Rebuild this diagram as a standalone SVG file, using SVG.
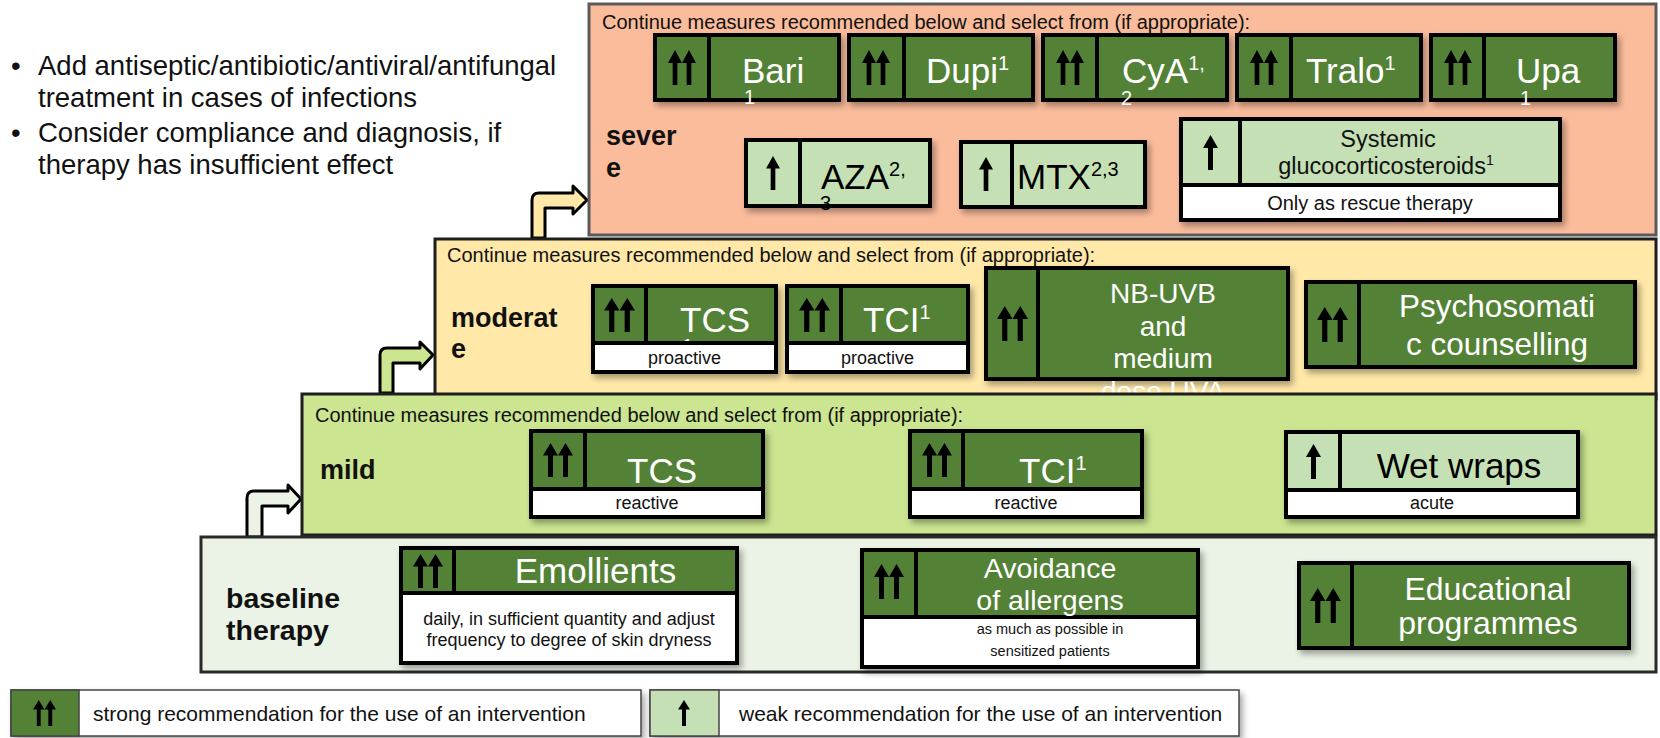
<svg xmlns="http://www.w3.org/2000/svg" width="1660" height="738" viewBox="0 0 1660 738">
<style>
text{font-family:"Liberation Sans",Arial,Helvetica,sans-serif;fill:#111}
.panel{stroke:#1e1e1e;stroke-width:3}
.box{stroke:#000;stroke-width:4}
.dk{fill:#538135}
.lt{fill:#C5E0B4}
.wh{fill:#fff}
.div{stroke:#000;stroke-width:4}
.big{font-size:35px;fill:#fff}
.bigk{font-size:35px;fill:#000}
.sup{font-size:20px;fill:#fff}
.supk{font-size:20px;fill:#000}
.sub{font-size:18px;text-anchor:middle}
.lbl{font-size:27px;font-weight:bold}
.cont{font-size:20px}
.mid{text-anchor:middle}
.wt{fill:#fff}
.conn{stroke:#000;stroke-width:3;stroke-linejoin:round}
</style>
<defs>
<filter id="sh" x="-10%" y="-10%" width="130%" height="140%">
<feDropShadow dx="3" dy="4" stdDeviation="3" flood-color="#000" flood-opacity="0.35"/>
</filter>
<symbol id="dbl" viewBox="0 0 30 38" preserveAspectRatio="none">
<polygon points="0,14 7.5,0 15,14 10,14 10,38 5,38 5,14" fill="#000"/>
<polygon points="15,14 22.5,0 30,14 25,14 25,38 20,38 20,14" fill="#000"/>
</symbol>
<symbol id="sgl" viewBox="0 0 15 38" preserveAspectRatio="none">
<polygon points="0,14 7.5,0 15,14 10,14 10,38 5,38 5,14" fill="#000"/>
</symbol>
</defs>

<rect width="1660" height="738" fill="#fff"/>

<g id="notes">
<text x="11" y="75" font-size="27.5">•</text>
<text x="38" y="75" font-size="27.5">Add antiseptic/antibiotic/antiviral/antifungal</text>
<text x="38" y="107" font-size="27.5">treatment in cases of infections</text>
<text x="11" y="142" font-size="27.5">•</text>
<text x="38" y="142" font-size="27.5">Consider compliance and diagnosis, if</text>
<text x="38" y="174" font-size="27.5">therapy has insufficient effect</text>
</g>

<g id="connectors">
<path class="conn" fill="#FFE8A8" d="M532,238 V200 Q532,193 539,193 H573 V186 L587,200 L573,214 V208 H545 V238 Z"/>
<path class="conn" fill="#CBE590" d="M380,393 V355 Q380,348 387,348 H420 V342 L433,355 L420,369 V363 H393 V393 Z"/>
<path class="conn" fill="#EAF3E5" d="M247,537 V498 Q247,491 254,491 H288 V485 L301,499 L288,513 V506 H262 V537 Z"/>
</g>

<g id="severe">
<rect x="589" y="4" width="1067" height="231" fill="#FBBC9C" stroke="#5a5a5a" stroke-width="3"/>
<text x="602" y="29" class="cont">Continue measures recommended below and select from (if appropriate):</text>
<text x="606" y="145" class="lbl">sever</text>
<text x="606" y="177" class="lbl">e</text>
</g>

<g id="bari">
<rect x="655" y="35" width="184" height="65" class="dk box" filter="url(#sh)"/>
<line x1="709" y1="35" x2="709" y2="100" class="div"/>
<use href="#dbl" x="668" y="50" width="28" height="35"/>
<text x="742" y="83" class="big">Bari</text>
<text x="744" y="104" class="sup">1</text>
</g>
<g id="dupi">
<rect x="849" y="35" width="184" height="65" class="dk box" filter="url(#sh)"/>
<line x1="904" y1="35" x2="904" y2="100" class="div"/>
<use href="#dbl" x="862" y="50" width="28" height="35"/>
<text x="926" y="83" class="big">Dupi<tspan class="sup" dy="-13">1</tspan></text>
</g>
<g id="cya">
<rect x="1043" y="35" width="184" height="65" class="dk box" filter="url(#sh)"/>
<line x1="1097" y1="35" x2="1097" y2="100" class="div"/>
<use href="#dbl" x="1056" y="50" width="28" height="35"/>
<text x="1122" y="83" class="big">CyA<tspan class="sup" dy="-13">1,</tspan></text>
<text x="1121" y="105" class="sup">2</text>
</g>
<g id="tralo">
<rect x="1237" y="35" width="184" height="65" class="dk box" filter="url(#sh)"/>
<line x1="1291" y1="35" x2="1291" y2="100" class="div"/>
<use href="#dbl" x="1250" y="50" width="28" height="35"/>
<text x="1306" y="83" class="big">Tralo<tspan class="sup" dy="-13">1</tspan></text>
</g>
<g id="upa">
<rect x="1431" y="35" width="184" height="65" class="dk box" filter="url(#sh)"/>
<line x1="1484" y1="35" x2="1484" y2="100" class="div"/>
<use href="#dbl" x="1444" y="50" width="28" height="35"/>
<text x="1516" y="83" class="big">Upa</text>
<text x="1520" y="105" class="sup">1</text>
</g>
<g id="aza">
<rect x="746" y="140" width="184" height="66" class="lt box" filter="url(#sh)"/>
<line x1="800" y1="140" x2="800" y2="206" class="div"/>
<use href="#sgl" x="766" y="156" width="14" height="34"/>
<text x="821" y="189" class="bigk">AZA<tspan class="supk" dy="-13">2,</tspan></text>
<text x="820" y="210" class="supk">3</text>
</g>
<g id="mtx">
<rect x="961" y="142" width="184" height="65" class="lt box" filter="url(#sh)"/>
<line x1="1012" y1="142" x2="1012" y2="207" class="div"/>
<use href="#sgl" x="979" y="157" width="14" height="34"/>
<text x="1017" y="189" class="bigk">MTX<tspan class="supk" dy="-13">2,3</tspan></text>
</g>
<g id="systemic">
<rect x="1181" y="119" width="379" height="101" class="wh box" filter="url(#sh)"/>
<rect x="1181" y="119" width="379" height="66" class="lt"/>
<rect x="1181" y="119" width="379" height="101" fill="none" class="box"/>
<line x1="1181" y1="185" x2="1560" y2="185" class="div"/>
<line x1="1240" y1="119" x2="1240" y2="185" class="div"/>
<use href="#sgl" x="1203" y="135" width="15" height="35"/>
<text x="1388" y="147" class="mid" font-size="23.5">Systemic</text>
<text x="1386" y="174" class="mid" font-size="23.5">glucocorticosteroids<tspan font-size="14" dy="-9">1</tspan></text>
<text x="1370" y="210" class="mid" font-size="20">Only as rescue therapy</text>
</g>

<g id="moderate">
<rect x="435" y="239" width="1221" height="160" fill="#FFE8A8" class="panel"/>
<text x="447" y="262" class="cont">Continue measures recommended below and select from (if appropriate):</text>
<text x="451" y="327" class="lbl">moderat</text>
<text x="451" y="358" class="lbl">e</text>
</g>
<g id="tcs-pro">
<rect x="593" y="286" width="183" height="86" class="wh box" filter="url(#sh)"/>
<rect x="593" y="286" width="183" height="57" class="dk"/>
<use href="#dbl" x="604" y="298" width="31" height="34"/>
<text x="680" y="332" class="big">TCS</text>
<text x="682" y="353" class="sup">1</text>
<rect x="593" y="343" width="183" height="29" class="wh"/>
<rect x="593" y="286" width="183" height="86" fill="none" class="box"/>
<line x1="593" y1="343" x2="776" y2="343" class="div"/>
<line x1="646" y1="286" x2="646" y2="343" class="div"/>
<text x="684.5" y="364" class="sub">proactive</text>
</g>
<g id="tci-pro">
<rect x="787" y="286" width="181" height="86" class="wh box" filter="url(#sh)"/>
<rect x="787" y="286" width="181" height="57" class="dk"/>
<rect x="787" y="286" width="181" height="86" fill="none" class="box"/>
<line x1="787" y1="343" x2="968" y2="343" class="div"/>
<line x1="841" y1="286" x2="841" y2="343" class="div"/>
<use href="#dbl" x="799" y="298" width="31" height="34"/>
<text x="863" y="332" class="big">TCI<tspan class="sup" dy="-13">1</tspan></text>
<text x="877.5" y="364" class="sub">proactive</text>
</g>
<g id="nbuvb">
<rect x="986" y="268" width="302" height="111" class="dk box" filter="url(#sh)"/>
<line x1="1038" y1="268" x2="1038" y2="379" class="div"/>
<use href="#dbl" x="997" y="306" width="31" height="35"/>
<text x="1163" y="303" class="mid wt" font-size="28">NB-UVB</text>
<text x="1163" y="336" class="mid wt" font-size="28">and</text>
<text x="1163" y="368" class="mid wt" font-size="28">medium</text>
<text x="1163" y="401" class="mid wt" font-size="28">dose UVA</text>
</g>
<g id="psycho">
<rect x="1306" y="282" width="329" height="85" class="dk box" filter="url(#sh)"/>
<line x1="1359" y1="282" x2="1359" y2="367" class="div"/>
<use href="#dbl" x="1317" y="307" width="31" height="35"/>
<text x="1497" y="317" class="mid wt" font-size="31.5">Psychosomati</text>
<text x="1497" y="355" class="mid wt" font-size="31.5">c counselling</text>
</g>

<g id="mild">
<rect x="302" y="394" width="1354" height="141" fill="#CBE590" class="panel"/>
<text x="315" y="422" class="cont">Continue measures recommended below and select from (if appropriate):</text>
<text x="320" y="479" class="lbl">mild</text>
</g>
<g id="tcs-re">
<rect x="531" y="431" width="232" height="86" class="wh box" filter="url(#sh)"/>
<rect x="531" y="431" width="232" height="58" class="dk"/>
<use href="#dbl" x="543" y="443" width="30" height="34"/>
<text x="627" y="483" class="big">TCS</text>
<text x="629" y="504" class="sup">1</text>
<rect x="531" y="489" width="232" height="28" class="wh"/>
<rect x="531" y="431" width="232" height="86" fill="none" class="box"/>
<line x1="531" y1="489" x2="763" y2="489" class="div"/>
<line x1="585" y1="431" x2="585" y2="489" class="div"/>
<text x="647" y="509" class="sub">reactive</text>
</g>
<g id="tci-re">
<rect x="910" y="431" width="232" height="86" class="wh box" filter="url(#sh)"/>
<rect x="910" y="431" width="232" height="58" class="dk"/>
<rect x="910" y="431" width="232" height="86" fill="none" class="box"/>
<line x1="910" y1="489" x2="1142" y2="489" class="div"/>
<line x1="963" y1="431" x2="963" y2="489" class="div"/>
<use href="#dbl" x="922" y="443" width="30" height="34"/>
<text x="1019" y="483" class="big">TCI<tspan class="sup" dy="-13">1</tspan></text>
<text x="1026" y="509" class="sub">reactive</text>
</g>
<g id="wetwraps">
<rect x="1286" y="432" width="292" height="85" class="wh box" filter="url(#sh)"/>
<rect x="1286" y="432" width="292" height="58" class="lt"/>
<rect x="1286" y="432" width="292" height="85" fill="none" class="box"/>
<line x1="1286" y1="490" x2="1578" y2="490" class="div"/>
<line x1="1340" y1="432" x2="1340" y2="490" class="div"/>
<use href="#sgl" x="1306" y="444" width="15" height="35"/>
<text x="1459" y="478" class="bigk mid">Wet wraps</text>
<text x="1432" y="509" class="sub">acute</text>
</g>

<g id="baseline">
<rect x="201" y="537" width="1455" height="135" fill="#EAF3E5" stroke="#2a2a2a" stroke-width="3"/>
<text x="226" y="608" class="lbl" font-size="28.5" style="font-size:28.5px">baseline</text>
<text x="226" y="640" class="lbl" style="font-size:28.5px">therapy</text>
</g>
<g id="emollients">
<rect x="401" y="548" width="336" height="115" class="wh box" filter="url(#sh)"/>
<rect x="401" y="548" width="336" height="45" class="dk"/>
<rect x="401" y="548" width="336" height="115" fill="none" class="box"/>
<line x1="401" y1="593" x2="737" y2="593" class="div"/>
<line x1="454" y1="548" x2="454" y2="593" class="div"/>
<use href="#dbl" x="413" y="554" width="30" height="34"/>
<text x="595.5" y="583" class="big mid">Emollients</text>
<text x="569" y="625" class="sub">daily, in sufficient quantity and adjust</text>
<text x="569" y="646" class="sub">frequency to degree of skin dryness</text>
</g>
<g id="avoidance">
<rect x="862" y="550" width="336" height="117" class="wh box" filter="url(#sh)"/>
<rect x="862" y="550" width="336" height="67" class="dk"/>
<rect x="862" y="550" width="336" height="117" fill="none" class="box"/>
<line x1="862" y1="617" x2="1198" y2="617" class="div"/>
<line x1="916" y1="550" x2="916" y2="617" class="div"/>
<use href="#dbl" x="874" y="564" width="30" height="35"/>
<text x="1050" y="578" class="mid wt" font-size="28.5">Avoidance</text>
<text x="1050" y="610" class="mid wt" font-size="28.5">of allergens</text>
<text x="1050" y="634" class="sub" style="font-size:14.5px">as much as possible in</text>
<text x="1050" y="656" class="sub" style="font-size:14.5px">sensitized patients</text>
</g>
<g id="educational">
<rect x="1299" y="563" width="330" height="85" class="dk box" filter="url(#sh)"/>
<line x1="1352" y1="563" x2="1352" y2="648" class="div"/>
<use href="#dbl" x="1310" y="588" width="31" height="35"/>
<text x="1488" y="600" class="mid wt" font-size="32">Educational</text>
<text x="1488" y="634" class="mid wt" font-size="32">programmes</text>
</g>

<g id="legend-strong">
<rect x="11" y="690" width="630" height="46" fill="#fff" stroke="#444" stroke-width="1.5" filter="url(#sh)"/>
<rect x="11" y="690" width="68" height="46" class="dk" stroke="#444" stroke-width="1.5"/>
<use href="#dbl" x="33" y="700" width="23" height="26"/>
<text x="93" y="721" font-size="21">strong recommendation for the use of an intervention</text>
</g>
<g id="legend-weak">
<rect x="650" y="690" width="589" height="46" fill="#fff" stroke="#444" stroke-width="1.5" filter="url(#sh)"/>
<rect x="650" y="690" width="69" height="46" class="lt" stroke="#444" stroke-width="1.5"/>
<use href="#sgl" x="678" y="700" width="12" height="26"/>
<text x="739" y="721" font-size="21">weak recommendation for the use of an intervention</text>
</g>
</svg>
